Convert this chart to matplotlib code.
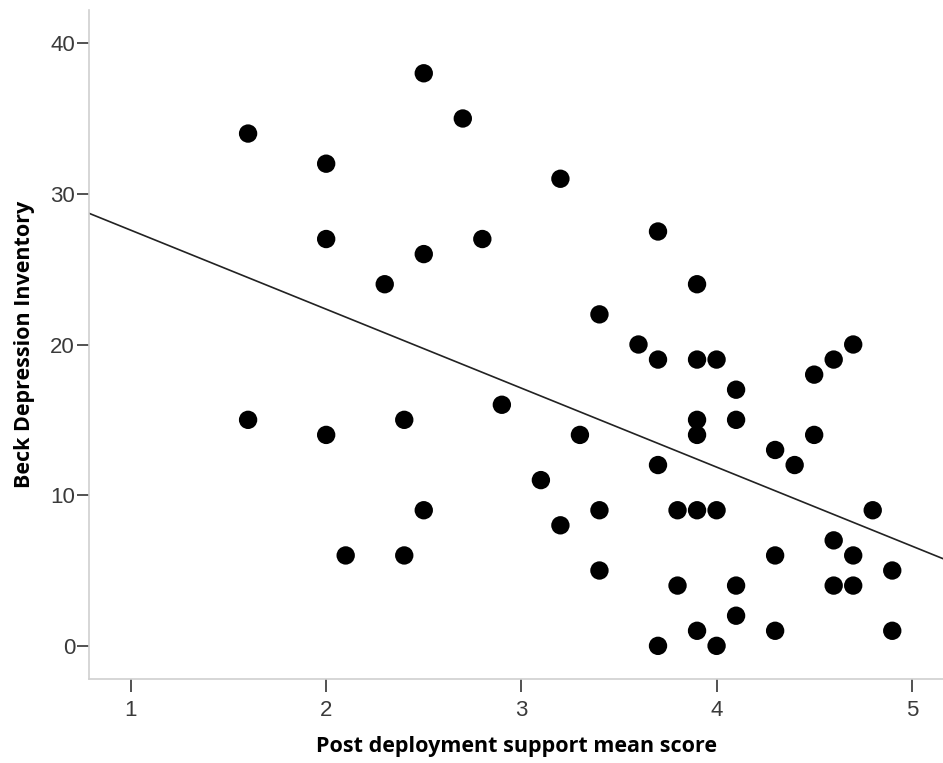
import matplotlib
matplotlib.use("Agg")
import matplotlib.pyplot as plt
import numpy as np

# Post deployment support mean score vs Beck Depression Inventory
support = [1.6, 1.6, 2.0, 2.0, 2.0, 2.1, 2.3, 2.4, 2.4, 2.5, 2.5, 2.5, 2.7, 2.8,
           2.9, 3.1, 3.2, 3.2, 3.3, 3.4, 3.4, 3.4, 3.6, 3.7, 3.7, 3.7, 3.7, 3.8,
           3.8, 3.9, 3.9, 3.9, 3.9, 3.9, 3.9, 4.0, 4.0, 4.0, 4.1, 4.1, 4.1, 4.1,
           4.3, 4.3, 4.3, 4.4, 4.5, 4.5, 4.6, 4.6, 4.6, 4.7, 4.7, 4.7, 4.8, 4.9,
           4.9]
bdi = [34, 15, 32, 27, 14, 6, 24, 15, 6, 38, 26, 9, 35, 27,
       16, 11, 31, 8, 14, 22, 9, 5, 20, 27.5, 19, 12, 0, 9,
       4, 24, 19, 15, 14, 9, 1, 19, 9, 0, 17, 15, 4, 2,
       13, 6, 1, 12, 18, 14, 19, 7, 4, 20, 6, 4, 9, 5,
       1]
x_ticks = [1, 2, 3, 4, 5]
y_ticks = [0, 10, 20, 30, 40]

plt.rcParams["font.family"] = ["Liberation Sans", "DejaVu Sans"]

fig = plt.figure(figsize=(9.43, 7.63), dpi=100)
ax = fig.add_axes([89 / 943, 84 / 763, 1 - 89 / 943, 669 / 763])

x = np.array(support)
y = np.array(bdi)
ax.scatter(x, y, s=175, color="black", edgecolors="none", zorder=3)

# least-squares fit line across the full x range
slope, intercept = np.polyfit(x, y, 1)
xlim = (0.785, 5.16)
xs = np.array(xlim)
ax.plot(xs, intercept + slope * xs, color="#222222", lw=1.2, zorder=2)

ax.set_xlim(*xlim)
ax.set_ylim(-2.2, 42.2)
ax.set_xticks(x_ticks)
ax.set_yticks(y_ticks)

for side in ("top", "right"):
    ax.spines[side].set_visible(False)
for side in ("left", "bottom"):
    ax.spines[side].set_color("#d0d0d0")
    ax.spines[side].set_linewidth(1.2)

ax.tick_params(axis="both", direction="out", length=9, width=1.2, color="#333333",
               labelsize=16, labelcolor="#3a3a3a")
ax.tick_params(axis="y", pad=1)
ax.tick_params(axis="x", pad=6)

label_font = dict(family=["Open Sans", "DejaVu Sans"], fontsize=15.5, fontweight="bold")
ax.set_xlabel("Post deployment support mean score", labelpad=11, **label_font)
ax.set_ylabel("Beck Depression Inventory", labelpad=11, **label_font)

fig.savefig("out.png", dpi=100)
